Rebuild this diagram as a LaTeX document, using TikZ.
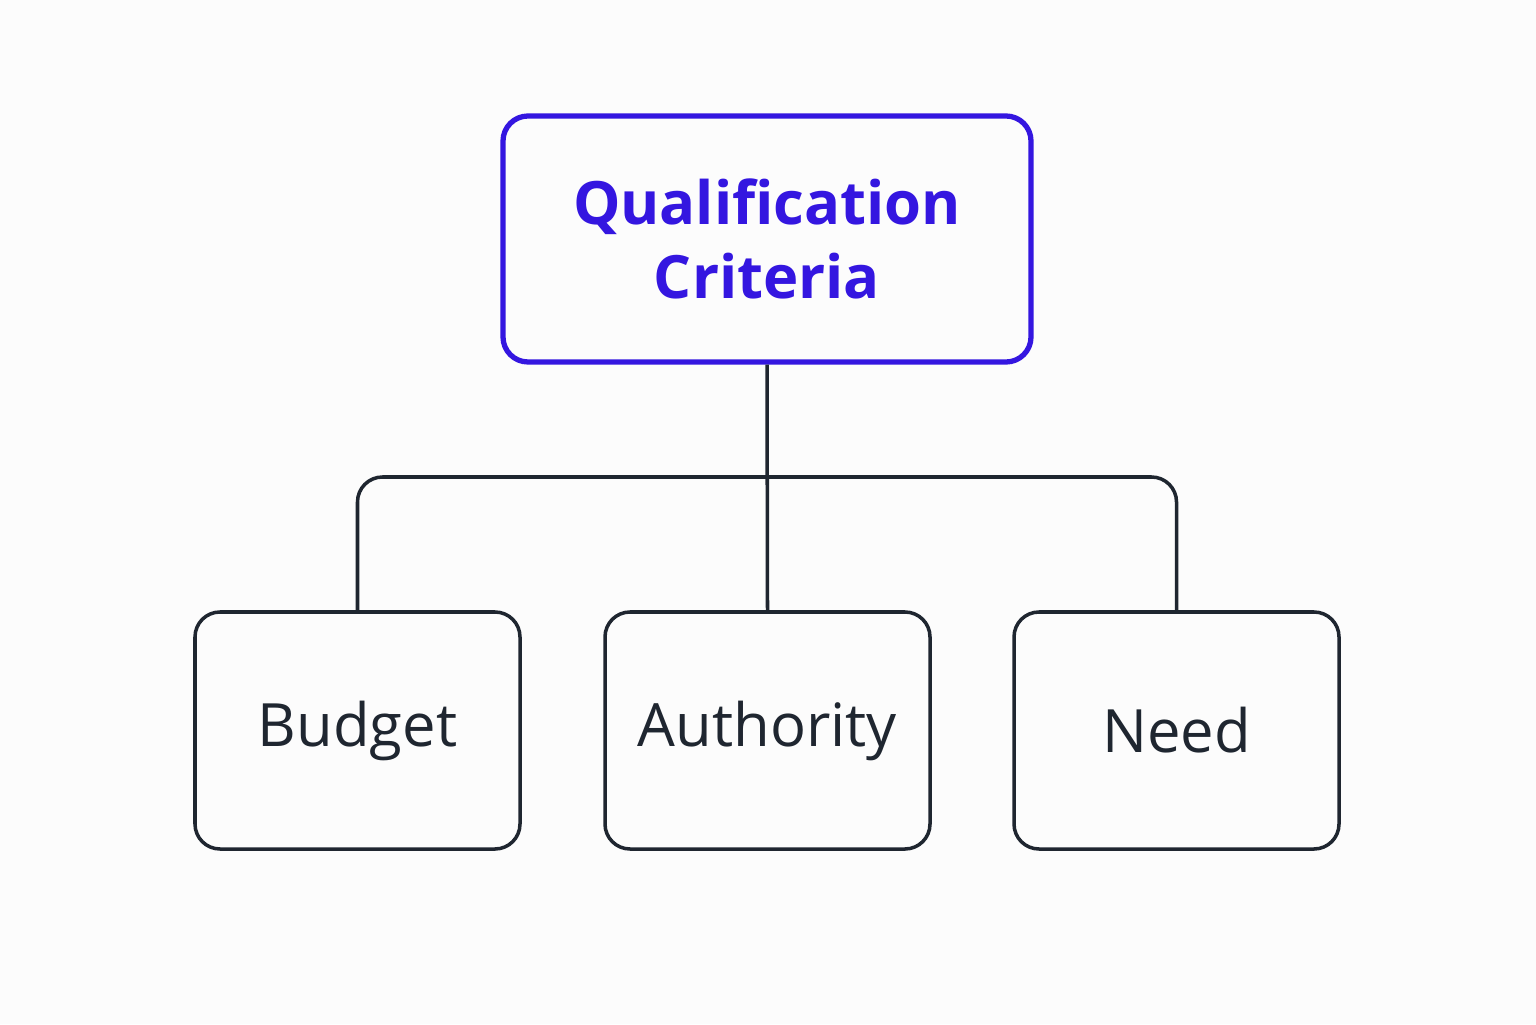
\documentclass[tikz,border=0pt]{standalone}
\usepackage{fontspec}
\setmainfont{Open Sans}
\usepackage{tikz}
\definecolor{ink}{HTML}{1F2630}
\definecolor{accent}{HTML}{3416E0}
\begin{document}
\begin{tikzpicture}[
  topbox/.style = {draw=accent, line width=1.5pt, rounded corners=0.25cm, minimum width=5.28cm, minimum height=2.46cm, align=center, text=accent, font=\fontsize{17}{21}\selectfont\bfseries},
  leafbox/.style = {draw=ink, line width=1pt, rounded corners=0.25cm, inner sep=0pt, minimum width=3.25cm, minimum height=2.37cm, text=ink, font=\fontsize{17}{21}\selectfont},
  link/.style = {draw=ink, line width=1pt}
]
\fill[white!99!black] (0,0) rectangle (15.36,10.24);
\useasboundingbox (0,0) rectangle (15.36,10.24);

\node[topbox] (criteria) at (7.67,7.85) {Qualification\\Criteria};

\node[leafbox] (budget) at (3.575,2.935) {Budget};
\node[leafbox] (authority) at (7.675,2.935) {Authority};
\node[leafbox] (need) at (11.765,2.935) {Need};

\coordinate (bar) at (7.67,5.47);

\path[link] (criteria.south) -- (authority.north);
\path[link, rounded corners=0.25cm] (budget.north) |- (bar);
\path[link, rounded corners=0.25cm] (need.north) |- (bar);

\end{tikzpicture}
\end{document}
